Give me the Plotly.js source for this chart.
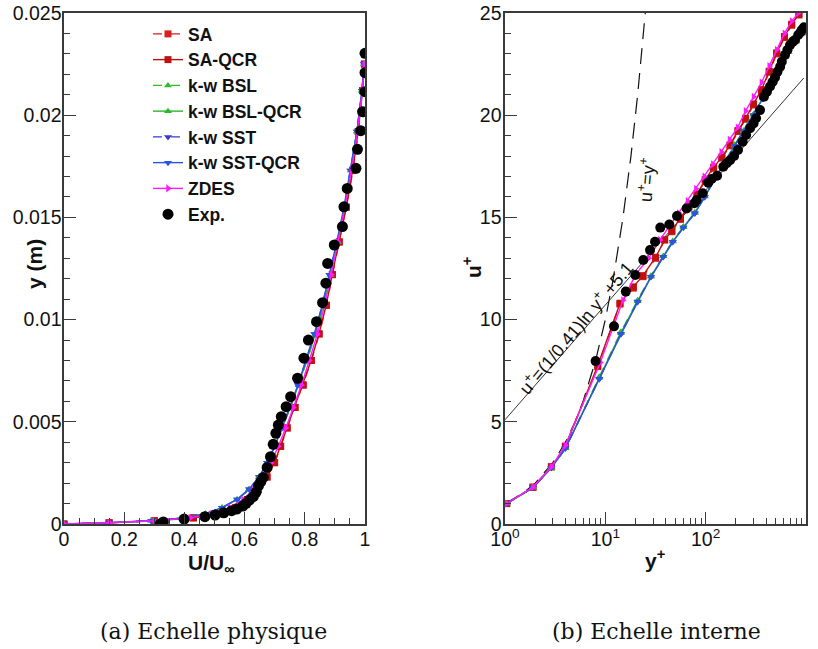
<!DOCTYPE html>
<html>
<head>
<meta charset="utf-8">
<script src="https://cdn.plot.ly/plotly-3.0.1.min.js"></script>
<style>html,body{margin:0;padding:0;background:#fff;}#chart{width:818px;height:649px;}</style>
</head>
<body>
<div id="chart"></div>
<script>
// ---------- Left panel: physical scale (U/Uinf vs y in m) ----------
const ySim = [0, 0.00006, 0.00016, 0.0003, 0.0005, 0.0008, 0.0012, 0.0017, 0.0023, 0.003, 0.0038, 0.0047, 0.0057, 0.0068, 0.008, 0.0093, 0.0107, 0.0122, 0.0138, 0.0155, 0.0173, 0.0192, 0.0212, 0.0225];
const uSA      = [0, 0.15, 0.30, 0.43, 0.51, 0.57, 0.61, 0.645, 0.675, 0.700, 0.720, 0.742, 0.768, 0.795, 0.822, 0.848, 0.872, 0.892, 0.915, 0.938, 0.960, 0.978, 0.992, 0.998];
const uSAQCR   = [0, 0.15, 0.30, 0.43, 0.51, 0.57, 0.61, 0.645, 0.674, 0.699, 0.719, 0.741, 0.767, 0.794, 0.821, 0.847, 0.871, 0.891, 0.914, 0.937, 0.959, 0.977, 0.992, 0.998];
const uBSL     = [0, 0.15, 0.29, 0.40, 0.47, 0.525, 0.575, 0.615, 0.648, 0.675, 0.700, 0.725, 0.752, 0.780, 0.808, 0.836, 0.862, 0.886, 0.910, 0.933, 0.954, 0.974, 0.990, 0.997];
const uBSLQCR  = [0, 0.15, 0.29, 0.40, 0.47, 0.525, 0.575, 0.615, 0.648, 0.675, 0.700, 0.725, 0.752, 0.779, 0.807, 0.835, 0.861, 0.885, 0.909, 0.932, 0.953, 0.973, 0.990, 0.997];
const uSST     = [0, 0.15, 0.29, 0.40, 0.47, 0.525, 0.575, 0.615, 0.648, 0.675, 0.700, 0.724, 0.750, 0.777, 0.804, 0.832, 0.858, 0.882, 0.906, 0.930, 0.952, 0.973, 0.990, 0.997];
const uSSTQCR  = [0, 0.15, 0.29, 0.40, 0.47, 0.525, 0.575, 0.615, 0.648, 0.675, 0.700, 0.724, 0.750, 0.777, 0.804, 0.832, 0.858, 0.882, 0.906, 0.930, 0.952, 0.973, 0.990, 0.997];
const uZDES    = [0, 0.15, 0.30, 0.42, 0.49, 0.55, 0.595, 0.630, 0.660, 0.688, 0.712, 0.737, 0.762, 0.789, 0.815, 0.842, 0.866, 0.888, 0.910, 0.933, 0.955, 0.975, 0.991, 0.998];

const yExpPhys = [0.0, 0.0001, 0.00024, 0.00036, 0.00044, 0.00055, 0.00065, 0.00073, 0.00088, 0.00101, 0.00117, 0.00134, 0.00155, 0.00186, 0.00207, 0.00228, 0.00277, 0.00329, 0.0039, 0.00444, 0.00484, 0.00525, 0.00574, 0.00623, 0.00713, 0.00811, 0.009, 0.0099, 0.01083, 0.01178, 0.01275, 0.01365, 0.01455, 0.01552, 0.01642, 0.0174, 0.01833, 0.01924, 0.02017, 0.02115, 0.02208, 0.02303];
const uExpPhys = [0.32, 0.33, 0.399, 0.468, 0.502, 0.531, 0.557, 0.574, 0.594, 0.605, 0.616, 0.629, 0.638, 0.646, 0.654, 0.662, 0.675, 0.686, 0.695, 0.704, 0.712, 0.722, 0.738, 0.753, 0.776, 0.797, 0.812, 0.839, 0.859, 0.870, 0.876, 0.898, 0.925, 0.930, 0.941, 0.970, 0.975, 0.986, 0.992, 1.0, 1.0, 1.0];

// ---------- Right panel: wall units (u+ vs y+) ----------
const ypSA   = [1.04, 1.9, 2.9, 4.0, 8.4, 14.0, 19, 23.7, 31.7, 39, 46, 56, 68, 82, 99, 120, 145, 175, 210, 250, 300, 360, 430, 510, 610, 720, 850];
const upSA   = [1.0, 1.8, 2.8, 3.8, 7.7, 10.76, 11.54, 12.1, 13.0, 13.9, 14.3, 14.9, 15.5, 16.1, 16.8, 17.4, 17.9, 18.5, 19.2, 19.8, 20.5, 21.2, 22.1, 23.0, 23.8, 24.4, 24.9];
const upSAQCR= [1.0, 1.8, 2.8, 3.8, 7.75, 10.8, 11.6, 12.15, 13.05, 13.9, 14.35, 14.95, 15.55, 16.15, 16.85, 17.45, 17.95, 18.55, 19.25, 19.85, 20.55, 21.25, 22.15, 23.05, 23.85, 24.45, 24.95];
const ypZDES = [1.04, 1.9, 2.9, 4.0, 8.9, 15.0, 20, 27, 35, 44, 54, 66, 80, 97, 118, 143, 173, 208, 250, 300, 360, 430, 510, 610, 720, 840];
const upZDES = [1.0, 1.8, 2.8, 3.85, 7.9, 10.95, 12.2, 13.0, 13.9, 14.6, 15.2, 15.8, 16.4, 17.0, 17.6, 18.2, 18.8, 19.4, 20.2, 20.9, 21.6, 22.4, 23.2, 24.0, 24.6, 25.0];
const ypKW   = [1.04, 1.9, 2.9, 4.0, 8.7, 14.3, 21, 28.5, 37.8, 47, 60, 78, 98, 124, 156, 195, 240, 300, 370, 450, 550, 670, 800, 950];
const upBSL  = [1.0, 1.78, 2.75, 3.7, 7.2, 9.4, 10.95, 12.15, 13.1, 13.85, 14.55, 15.25, 16.05, 16.95, 17.75, 18.55, 19.25, 20.05, 20.85, 21.65, 22.45, 23.1, 23.6, 24.0];
const upBSLQCR=[1.0, 1.78, 2.75, 3.7, 7.15, 9.35, 10.9, 12.1, 13.1, 13.82, 14.52, 15.22, 16.02, 16.92, 17.72, 18.52, 19.22, 20.02, 20.82, 21.62, 22.42, 23.1, 23.65, 24.1];
const upSST  = [1.0, 1.78, 2.75, 3.7, 7.1, 9.3, 10.88, 12.1, 13.08, 13.81, 14.5, 15.2, 16.0, 16.9, 17.7, 18.5, 19.2, 20.0, 20.8, 21.6, 22.4, 23.1, 23.7, 24.2];
const upSSTQCR=[1.0, 1.78, 2.75, 3.7, 7.1, 9.28, 10.86, 12.08, 13.06, 13.8, 14.5, 15.2, 16.0, 16.9, 17.7, 18.5, 19.2, 20.0, 20.8, 21.6, 22.4, 23.1, 23.7, 24.2];

const ypExp = [8.0, 12.2, 16.0, 19.9, 23.9, 27.9, 31.3, 35.3, 43.4, 51.8, 64.7, 77.1, 81.4, 93.4, 106, 114.5, 130, 150, 162, 175, 192, 210, 234, 253, 277, 300, 318, 348, 381, 408, 438, 466, 491, 520, 552, 574, 618, 652, 693, 740, 777, 836, 880, 906, 955];
const upExp = [7.97, 9.67, 11.37, 12.18, 12.92, 13.4, 13.81, 14.5, 14.65, 15.07, 15.44, 15.69, 15.85, 16.18, 16.7, 16.88, 17.04, 17.48, 17.65, 17.8, 18.0, 18.3, 18.7, 19.03, 19.36, 19.6, 19.85, 20.25, 20.9, 21.15, 21.4, 21.64, 21.85, 22.13, 22.37, 22.62, 22.95, 23.19, 23.43, 23.6, 23.68, 23.92, 24.05, 24.17, 24.3];

// reference laws
const ypLinear = [1, 1.5, 2, 3, 4, 5, 6, 8, 10, 12, 15, 18, 21, 25];
const upLinear = [1, 1.5, 2, 3, 4, 5, 6, 8, 10, 12, 15, 18, 21, 25];
const ypLog = [1, 950];
const upLog = [5.1, 21.82];

// tick labels
const logTickVals = [1, 10, 100, 1000];
const logTickText = ['10<sup>0</sup>', '10<sup>1</sup>', '10<sup>2</sup>', '10<sup>3</sup>'];
const logMinorVals = [2,3,4,5,6,7,8,9,20,30,40,50,60,70,80,90,200,300,400,500,600,700,800,900];

const names = ['SA', 'SA-QCR', 'k-w BSL', 'k-w BSL-QCR', 'k-w SST', 'k-w SST-QCR', 'ZDES', 'Exp.'];
const colors = ['#d81e1e', '#c01010', '#2cbf2c', '#2cb52c', '#3a3ad0', '#2a55e0', '#ff1aff', '#000000'];
const dashes = ['dash', 'solid', 'dash', 'solid', 'dash', 'solid', 'solid'];
const symbols = ['square', 'square', 'triangle-up', 'triangle-up', 'triangle-down', 'triangle-down', 'triangle-right', 'circle'];

const leftU = [uSA, uSAQCR, uBSL, uBSLQCR, uSST, uSSTQCR, uZDES];
const rightX = [ypSA, ypSA, ypKW, ypKW, ypKW, ypKW, ypZDES];
const rightY = [upSA, upSAQCR, upBSL, upBSLQCR, upSST, upSSTQCR, upZDES];

const SANS = 'Liberation Sans';
const traces = [];
traces.push({x: ypLinear, y: upLinear, xaxis: 'x2', yaxis: 'y2', mode: 'lines', showlegend: false,
  line: {color: '#111', width: 1.2, dash: '16px,9px'}, hoverinfo: 'skip'});
traces.push({x: ypLog, y: upLog, xaxis: 'x2', yaxis: 'y2', mode: 'lines', showlegend: false,
  line: {color: '#333', width: 1}, hoverinfo: 'skip'});

for (let i = 0; i < 7; i++) {
  traces.push({
    x: leftU[i], y: ySim, xaxis: 'x', yaxis: 'y', mode: 'lines+markers', name: names[i],
    line: {color: colors[i], width: 1.4, dash: dashes[i]},
    marker: {symbol: symbols[i], size: 7, color: colors[i]}
  });
}
traces.push({x: uExpPhys, y: yExpPhys, xaxis: 'x', yaxis: 'y', mode: 'markers', name: names[7],
  marker: {symbol: 'circle', size: 11, color: '#000'}});

for (let i = 0; i < 7; i++) {
  traces.push({
    x: rightX[i], y: rightY[i], xaxis: 'x2', yaxis: 'y2', mode: 'lines+markers', showlegend: false,
    line: {color: colors[i], width: 1.4, dash: dashes[i]},
    marker: {symbol: symbols[i], size: 7, color: colors[i]}
  });
}
traces.push({x: ypExp, y: upExp, xaxis: 'x2', yaxis: 'y2', mode: 'markers', showlegend: false,
  marker: {symbol: 'circle', size: 10, color: '#000'}});

const tickFont = {family: SANS, size: 19.5, color: '#111'};
const axBase = {
  showline: true, mirror: true, linecolor: '#3a3a3a', linewidth: 1.6,
  ticks: 'inside', ticklen: 12, tickwidth: 1.3, tickcolor: '#3a3a3a',
  showgrid: false, zeroline: false, tickfont: tickFont,
  minor: {ticks: 'inside', ticklen: 6, tickwidth: 1, tickcolor: '#3a3a3a', showgrid: false}
};

function ann(text, x, y, size, extra) {
  return Object.assign({text: text, xref: 'paper', yref: 'paper', x: x / 818, y: 1 - y / 649,
    xanchor: 'center', yanchor: 'middle', showarrow: false,
    font: {family: SANS, size: size, color: '#111'}}, extra || {});
}

const yDom = [1 - 524/649, 1 - 13/649];
const layout = {
  width: 818, height: 649,
  margin: {l: 0, r: 0, t: 0, b: 0},
  paper_bgcolor: '#fff', plot_bgcolor: '#fff',
  font: {family: SANS, color: '#111'},
  xaxis: Object.assign({}, axBase, {domain: [64/818, 365/818], range: [0, 1], dtick: 0.2, anchor: 'y',
    ticklabelstandoff: -3, minor: Object.assign({}, axBase.minor, {dtick: 0.05})}),
  yaxis: Object.assign({}, axBase, {domain: yDom, range: [0, 0.025], dtick: 0.005, anchor: 'x',
    ticklabelstandoff: -3, minor: Object.assign({}, axBase.minor, {dtick: 0.001})}),
  xaxis2: Object.assign({}, axBase, {domain: [505/818, 806/818], type: 'log', range: [0, 3], anchor: 'y2',
    ticklabelstandoff: -3, tickmode: 'array', tickvals: logTickVals, ticktext: logTickText,
    minor: Object.assign({}, axBase.minor, {tickmode: 'array', tickvals: logMinorVals})}),
  yaxis2: Object.assign({}, axBase, {domain: yDom, range: [0, 25], dtick: 5, anchor: 'x2',
    ticklabelstandoff: -2, minor: Object.assign({}, axBase.minor, {dtick: 1})}),
  showlegend: true,
  legend: {x: 148/818, y: 1 - 16/649, xanchor: 'left', yanchor: 'top', bgcolor: 'rgba(0,0,0,0)',
    font: {family: SANS, size: 17.5, color: '#111', weight: 'bold'},
    tracegroupgap: 0},
  annotations: [
    ann('<b>U/U<sub>∞</sub></b>', 211, 564, 21),
    ann('<b>y (m)</b>', 34, 264, 21, {textangle: -90}),
    ann('<b>u<sup>+</sup></b>', 472, 268, 21, {textangle: -90}),
    ann('<b>y<sup>+</sup></b>', 655, 559, 21),
    {text: 'u<sup>+</sup>=(1/0.41)ln y<sup>+</sup> +5.1', xref: 'x2', yref: 'y2', x: 0.7077, y: 9.6,
      xanchor: 'center', yanchor: 'middle', showarrow: false,
      textangle: -50, font: {family: SANS, size: 18, color: '#111'}},
    {text: 'u<sup>+</sup>=y<sup>+</sup>', xref: 'x2', yref: 'y2', x: 1.415, y: 16.83,
      xanchor: 'center', yanchor: 'middle', showarrow: false,
      textangle: -85, font: {family: SANS, size: 18, color: '#111'}},
    ann('(a) Echelle physique', 213, 631, 22, {font: {family: 'DejaVu Serif', size: 22, color: '#111'}}),
    ann('(b) Echelle interne', 656, 631, 22, {font: {family: 'DejaVu Serif', size: 22, color: '#111'}})
  ]
};

Plotly.newPlot('chart', traces, layout, {staticPlot: true, displayModeBar: false});
</script>
</body>
</html>
